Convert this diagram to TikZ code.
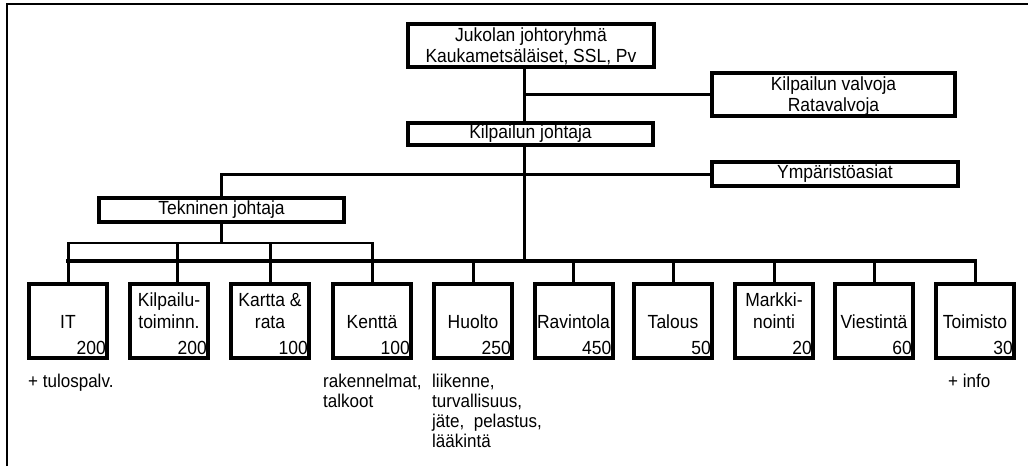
\documentclass[tikz,border=0pt]{standalone}
\usepackage{fontspec}
\setmainfont[FakeStretch=0.92]{Liberation Sans}
\usetikzlibrary{calc}
\begin{document}
\begin{tikzpicture}[x=1pt,y=-1pt,
  orgbox/.style={draw, line width=4pt, rectangle, inner sep=0pt, font=\fontsize{19}{21}\selectfont, align=center},
  unitbox/.style={orgbox, minimum width=78pt, minimum height=74pt},
  linkline/.style={line width=3pt, line cap=rect},
  busline/.style={line width=4pt, line cap=rect},
  thinlink/.style={line width=2.4pt, line cap=rect},
  unitname/.style={inner sep=0pt, font=\fontsize{19}{22}\selectfont, align=center, anchor=south},
  unitnum/.style={inner sep=0pt, font=\fontsize{19}{22}\selectfont, anchor=base east},
  notetext/.style={inner sep=0pt, font=\fontsize{18.5}{20}\selectfont, align=left, anchor=north west}]
\useasboundingbox (0,0) rectangle (1028,466);
\draw[line width=2pt] (7,466) -- (7,4) -- (1028,4);

% upper boxes
\node[orgbox, text depth=0pt, minimum width=246pt, minimum height=43pt] (jukola) at (531,45.5) {Jukolan johtoryhmä\\Kaukametsäläiset, SSL, Pv};
\node[orgbox, text depth=0pt, minimum width=243pt, minimum height=43pt] (valvoja) at (833.5,94.5) {Kilpailun valvoja\\Ratavalvoja};
\node[orgbox, minimum width=245pt, minimum height=22pt] (johtaja) at (530.5,134) {Kilpailun johtaja};
\node[orgbox, minimum width=246pt, minimum height=24pt] (ymp) at (835,174) {Ympäristöasiat};
\node[orgbox, minimum width=245pt, minimum height=24pt] (tekn) at (221.5,210) {Tekninen johtaja};

% unit boxes
\node[unitbox] (it)   at (68,321) {};
\node[unitbox] (kilp) at (169,321) {};
\node[unitbox] (kart) at (270,321) {};
\node[unitbox] (kent) at (372,321) {};
\node[unitbox] (huol) at (473,321) {};
\node[unitbox] (rav)  at (573.5,321) {};
\node[unitbox] (tal)  at (673,321) {};
\node[unitbox] (mark) at (774,321) {};
\node[unitbox] (vies) at (874,321) {};
\node[unitbox] (toim) at (975,321) {};

\coordinate (tx) at (524,0);
\coordinate (bus) at (0,261);
\coordinate (sub) at (0,243);
\coordinate (nameline) at (0,329);
\coordinate (kilpx) at (177,0);

% names
\node[unitname] at (it |- nameline) {IT};
\node[unitname] at (kilp |- nameline) {Kilpailu-\\toiminn.};
\node[unitname] at (kart |- nameline) {Kartta \&\\rata};
\node[unitname] at (kent |- nameline) {Kenttä};
\node[unitname] at (huol |- nameline) {Huolto};
\node[unitname] at (rav |- nameline) {Ravintola};
\node[unitname] at (tal |- nameline) {Talous};
\node[unitname] at (mark |- nameline) {Markki-\\nointi};
\node[unitname] at (vies |- nameline) {Viestintä};
\node[unitname] at (toim |- nameline) {Toimisto};

% numbers
\node[unitnum] at ($(it.south east)+(-3,-6)$) {200};
\node[unitnum] at ($(kilp.south east)+(-3,-6)$) {200};
\node[unitnum] at ($(kart.south east)+(-3,-6)$) {100};
\node[unitnum] at ($(kent.south east)+(-3,-6)$) {100};
\node[unitnum] at ($(huol.south east)+(-3,-6)$) {250};
\node[unitnum] at ($(rav.south east)+(-3,-6)$) {450};
\node[unitnum] at ($(tal.south east)+(-3,-6)$) {50};
\node[unitnum] at ($(mark.south east)+(-3,-6)$) {20};
\node[unitnum] at ($(vies.south east)+(-3,-6)$) {60};
\node[unitnum] at ($(toim.south east)+(-3,-6)$) {30};

% notes
\node[notetext] (n1) at (28,374) {+ tulospalv.};
\node[notetext] (n2) at (323,374) {rakennelmat,\\talkoot};
\node[notetext] (n3) at (432,374) {liikenne,\\turvallisuus,\\jäte,\ \ pelastus,\\lääkintä};
\node[notetext] (n4) at (948,374) {+ info};

% connectors
\draw[linkline] (jukola.south -| tx) -- (johtaja.north -| tx);
\draw[linkline] (valvoja.west) -- (valvoja.west -| tx);
\draw[linkline] (johtaja.south -| tx) -- (bus -| tx);
\draw[linkline] (ymp.west) -- (tekn.north |- ymp.west) -- (tekn.north);
\draw[thinlink] (tekn.south) -- (tekn.south |- sub);
\draw[busline] (it.north |- bus) -- (toim.north |- bus);
\draw[thinlink] (it.north |- sub) -- (kent.north |- sub);
\draw[linkline] (it.north) -- (it.north |- sub);
\draw[linkline] (kilp.north -| kilpx) -- (kilpx |- sub);
\draw[linkline] (kart.north) -- (kart.north |- sub);
\draw[linkline] (kent.north) -- (kent.north |- sub);
\draw[linkline] (huol.north) -- (huol.north |- bus);
\draw[linkline] (rav.north) -- (rav.north |- bus);
\draw[linkline] (tal.north) -- (tal.north |- bus);
\draw[linkline] (mark.north) -- (mark.north |- bus);
\draw[linkline] (vies.north) -- (vies.north |- bus);
\draw[linkline] (toim.north) -- (toim.north |- bus);
\end{tikzpicture}
\end{document}
